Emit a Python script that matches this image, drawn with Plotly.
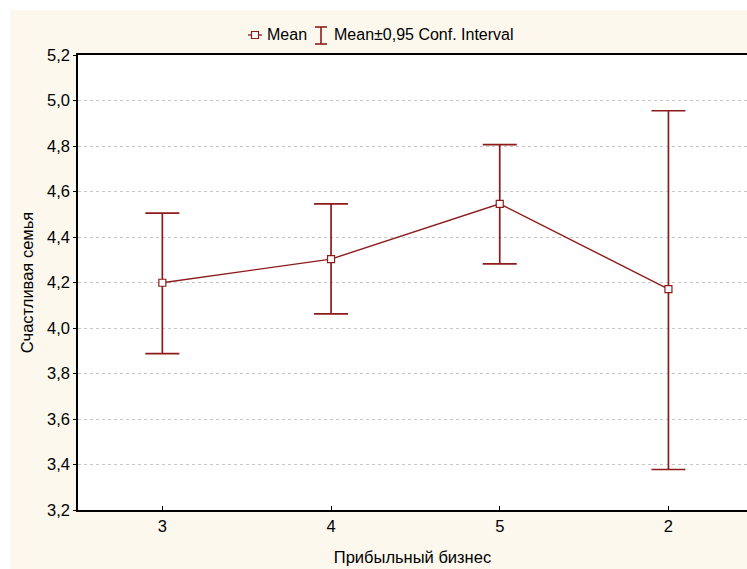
import plotly.graph_objects as go

categories = ["3", "4", "5", "2"]
means = [4.199, 4.303, 4.546, 4.171]
upper = [4.505, 4.546, 4.806, 4.955]
lower = [3.887, 4.062, 4.282, 3.378]
legend_labels = ["Mean", "Mean±0,95 Conf. Interval"]

RED = "#8E1B1B"
W, H = 747, 569
ML, MR, MT, MB = 78, 0, 55, 59
PW, PH = W - ML - MR, H - MT - MB

err_plus = [u - m for u, m in zip(upper, means)]
err_minus = [m - l for m, l in zip(means, lower)]
xs = list(range(len(categories)))

fig = go.Figure()
fig.add_trace(go.Scatter(
    x=xs, y=means, mode="markers", name=legend_labels[1], showlegend=False,
    marker=dict(size=0.1, color="rgba(0,0,0,0)"),
    error_y=dict(type="data", symmetric=False, array=err_plus, arrayminus=err_minus,
                 color=RED, thickness=1.7, width=17),
))
fig.add_trace(go.Scatter(
    x=xs, y=means, mode="lines+markers", name=legend_labels[0], showlegend=False,
    line=dict(color=RED, width=1.4),
    marker=dict(symbol="square", size=7, color="white", line=dict(color=RED, width=1.2)),
))

def px(x):
    return (x - ML) / PW

def py(y):
    return (H - MB - y) / PH

ivory = "#FDF8EE"
shapes = [
    dict(type="rect", xref="paper", yref="paper", x0=px(-5), x1=px(W + 5), y0=py(10), y1=py(-5),
         fillcolor="white", line=dict(width=0), layer="below"),
    dict(type="rect", xref="paper", yref="paper", x0=px(-5), x1=px(10), y0=py(H + 5), y1=py(-5),
         fillcolor="white", line=dict(width=0), layer="below"),
    # legend glyph: Mean (line + square)
    dict(type="line", xref="paper", yref="paper", x0=px(248), x1=px(262), y0=py(35), y1=py(35),
         line=dict(color=RED, width=1.3)),
    dict(type="rect", xref="paper", yref="paper", x0=px(251.5), x1=px(258.5), y0=py(31.5), y1=py(38.5),
         fillcolor="white", line=dict(color=RED, width=1.2)),
    # legend glyph: error bar
    dict(type="line", xref="paper", yref="paper", x0=px(321), x1=px(321), y0=py(27), y1=py(44),
         line=dict(color=RED, width=1.6)),
    dict(type="line", xref="paper", yref="paper", x0=px(315), x1=px(327), y0=py(27), y1=py(27),
         line=dict(color=RED, width=1.6)),
    dict(type="line", xref="paper", yref="paper", x0=px(315), x1=px(327), y0=py(44), y1=py(44),
         line=dict(color=RED, width=1.6)),
]
annotations = [
    dict(text=legend_labels[0], xref="paper", yref="paper", x=px(265), y=py(35),
         xanchor="left", yanchor="middle", showarrow=False, font=dict(size=16)),
    dict(text=legend_labels[1], xref="paper", yref="paper", x=px(332), y=py(35),
         xanchor="left", yanchor="middle", showarrow=False, font=dict(size=16)),
]

fig.update_layout(
    width=W, height=H,
    margin=dict(l=ML, r=MR, t=MT, b=MB),
    paper_bgcolor=ivory, plot_bgcolor="white",
    separators=", ",
    font=dict(family="Liberation Sans, Arial", size=16, color="black"),
    showlegend=False,
    shapes=shapes,
    annotations=annotations,
)
fig.update_xaxes(
    tickmode="array", tickvals=xs, ticktext=categories,
    range=[-0.5, -0.5 + PW / 168.7],
    showgrid=False, zeroline=False,
    showline=True, linecolor="black", linewidth=1.5, mirror=True,
    ticks="inside", ticklen=4, tickcolor="black",
    tickfont=dict(size=16.5),
    title=dict(text="Прибыльный бизнес", standoff=18, font=dict(size=16.5)),
)
fig.update_yaxes(
    range=[3.2, 5.2], dtick=0.2, tick0=3.2, tickformat=".1f",
    showgrid=True, gridcolor="#C6C6C6", griddash="dot", gridwidth=1,
    zeroline=False, showline=True, linecolor="black", linewidth=1.5, mirror=False,
    ticks="outside", ticklen=3, tickcolor="black",
    tickfont=dict(size=16.5),
    title=dict(text="Счастливая семья", standoff=9, font=dict(size=16.5)),
)
fig.write_html("out.html")
